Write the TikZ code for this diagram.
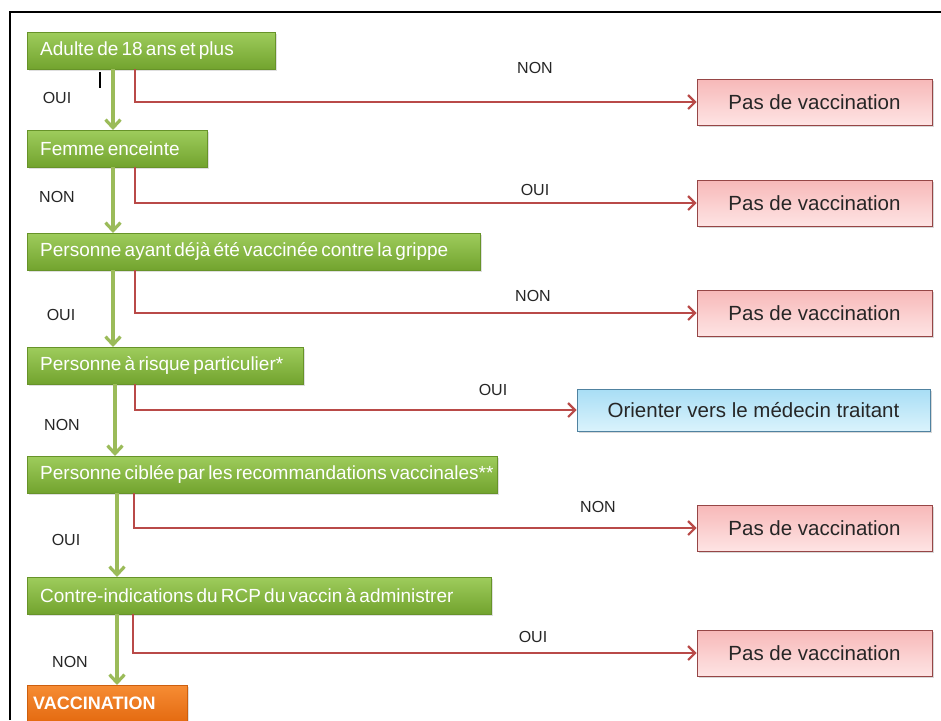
\documentclass[tikz,border=0pt]{standalone}
\usepackage{fontspec}
\setmainfont{Liberation Sans}
\usetikzlibrary{arrows.meta,shadows}
\newcommand\gtxt[1]{\mbox{\spaceskip=0.17em\relax #1}}
\definecolor{gtop}{RGB}{158,204,92}
\definecolor{gbot}{RGB}{114,163,46}
\definecolor{gline}{RGB}{155,187,89}
\definecolor{ptop}{RGB}{247,184,184}
\definecolor{pbot}{RGB}{254,228,228}
\definecolor{pborder}{RGB}{150,70,70}
\definecolor{btop}{RGB}{168,222,245}
\definecolor{bbot}{RGB}{218,243,252}
\definecolor{bborder}{RGB}{80,130,160}
\definecolor{otop}{RGB}{246,140,52}
\definecolor{obot}{RGB}{228,106,16}
\definecolor{rline}{RGB}{185,74,72}
\begin{document}
\begin{tikzpicture}[x=1pt,y=-1pt,
  gbox/.style={anchor=north west, minimum height=37pt, inner xsep=13pt, inner ysep=0pt,
    align=left, text=white, font=\fontsize{19}{22}\selectfont,
    top color=gtop, bottom color=gbot, draw=gbot!90!black, line width=0.4pt,
    drop shadow={opacity=0.25, shadow xshift=2pt, shadow yshift=-2pt}},
  obox/.style={gbox, top color=otop, bottom color=obot, draw=obot!90!black,
    font=\fontsize{18}{21}\selectfont\bfseries, inner xsep=6pt},
  pbox/.style={minimum width=235pt, minimum height=46pt, inner sep=0pt,
    top color=ptop, bottom color=pbot, draw=pborder, line width=0.8pt,
    text=black!85, font=\fontsize{20.5}{24}\selectfont,
    drop shadow={opacity=0.3, shadow xshift=2pt, shadow yshift=-2pt}},
  bbox/.style={pbox, minimum width=353pt, minimum height=42pt,
    top color=btop, bottom color=bbot, draw=bborder},
  lbl/.style={font=\fontsize{16}{19}\selectfont, text=black!85, inner sep=0pt},
  garrow/.style={draw=gline, line width=3.2pt, -{Straight Barb[length=8pt,width=15pt]}},
  rarrow/.style={draw=rline, line width=2.2pt, -{Straight Barb[length=7pt,width=14pt]}}
]
\useasboundingbox (0,0) rectangle (941,720);
\fill[white] (0,0) rectangle (941,720);
% frame
\draw[line width=2pt] (10,720) -- (10,12) -- (941,12);

% green decision boxes
\node[gbox, text width=222pt] (b1) at (27,32) {\gtxt{Adulte de 18 ans et plus}};
\node[gbox, text width=154pt] (b2) at (27,130) {\gtxt{Femme enceinte}};
\node[gbox, text width=427pt] (b3) at (27,233) {\gtxt{Personne ayant déjà été vaccinée contre la grippe}};
\node[gbox, text width=250pt] (b4) at (27,347) {\gtxt{Personne à risque particulier*}};
\node[gbox, text width=444pt] (b5) at (27,456) {\gtxt{Personne ciblée par les recommandations vaccinales**}};
\node[gbox, text width=438pt] (b6) at (27,577) {\gtxt{Contre-indications du RCP du vaccin à administrer}};
\node[obox, text width=148pt] (v) at (27,685) {\mbox{VACCINATION}};

% outcome boxes
\node[pbox] (p1) at (814.5,102) {Pas de vaccination};
\node[pbox] (p2) at (814.5,203) {Pas de vaccination};
\node[pbox] (p3) at (814.5,313) {Pas de vaccination};
\node[bbox] (m4) at (753.5,410) {Orienter vers le médecin traitant};
\node[pbox] (p5) at (814.5,528) {Pas de vaccination};
\node[pbox] (p6) at (814.5,653) {Pas de vaccination};

% green arrows (main path)
\draw[garrow] ([xshift=86pt]b1.south west) -- ([xshift=86pt]b2.north west);
\draw[garrow] ([xshift=86pt]b2.south west) -- ([xshift=86pt]b3.north west);
\draw[garrow] ([xshift=86pt]b3.south west) -- ([xshift=86pt]b4.north west);
\draw[garrow] ([xshift=88pt]b4.south west) -- ([xshift=88pt]b5.north west);
\draw[garrow] ([xshift=90pt]b5.south west) -- ([xshift=90pt]b6.north west);
\draw[garrow] ([xshift=90pt]b6.south west) -- ([xshift=90pt]v.north west);

% red arrows (exits)
\draw[rarrow] ([xshift=108pt]b1.south west) |- (p1.west);
\draw[rarrow] ([xshift=108pt]b2.south west) |- (p2.west);
\draw[rarrow] ([xshift=108pt]b3.south west) |- (p3.west);
\draw[rarrow] ([xshift=108pt]b4.south west) |- (m4.west);
\draw[rarrow] ([xshift=107pt]b5.south west) |- (p5.west);
\draw[rarrow] ([xshift=106pt]b6.south west) |- (p6.west);

% stray mark
\draw[line width=1.6pt] (100,72) -- (100,88);

% labels
\node[lbl] (l1a) at (57,98) {OUI};
\node[lbl] (l1b) at (535,68) {NON};
\node[lbl] (l2a) at (57,197) {NON};
\node[lbl] (l2b) at (535,190) {OUI};
\node[lbl] (l3a) at (61,315) {OUI};
\node[lbl] (l3b) at (533,296) {NON};
\node[lbl] (l4a) at (62,425) {NON};
\node[lbl] (l4b) at (493,390) {OUI};
\node[lbl] (l5a) at (66,540) {OUI};
\node[lbl] (l5b) at (598,507) {NON};
\node[lbl] (l6a) at (70,662) {NON};
\node[lbl] (l6b) at (533,637) {OUI};
\end{tikzpicture}
\end{document}
